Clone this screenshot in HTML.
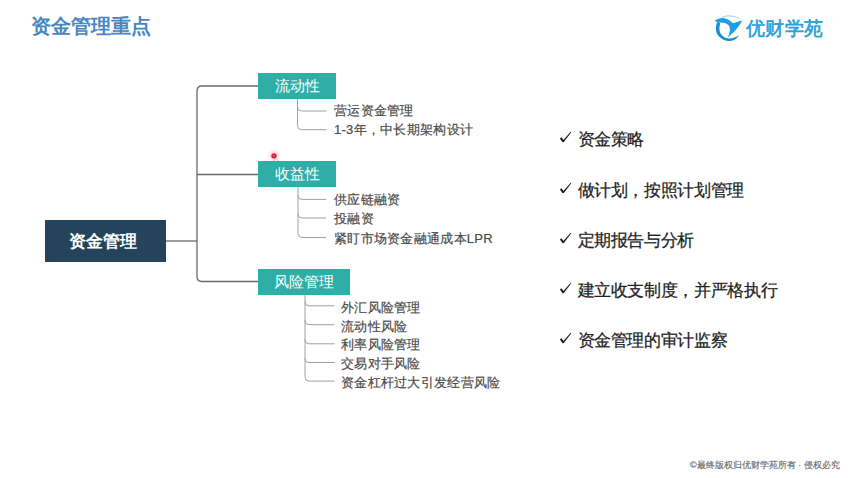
<!DOCTYPE html>
<html><head><meta charset="utf-8">
<style>
html,body{margin:0;padding:0;}
body{width:848px;height:478px;position:relative;overflow:hidden;background:#fff;font-family:"Liberation Sans",sans-serif;}
.a{position:absolute;white-space:nowrap;}
.title{left:31px;top:12.5px;font-size:20px;font-weight:bold;color:#4a86c2;line-height:26px;}
.logo{left:746px;top:17px;font-size:19px;color:#2a9fd8;line-height:24px;letter-spacing:0.3px;-webkit-text-stroke:0.6px #2a9fd8;}
.root{left:45px;top:220px;width:121px;height:42px;background:#24445c;color:#fff;font-size:17px;font-weight:bold;line-height:42px;}
.box{background:#2eaea6;color:#fff;font-size:15px;line-height:26px;text-align:center;height:26px;}
.ch{font-size:13px;font-weight:500;letter-spacing:0.28px;color:#4a4a4a;line-height:16px;-webkit-text-stroke:0.2px #4a4a4a;}
.bul{font-size:17px;letter-spacing:-0.35px;color:#222;line-height:20px;-webkit-text-stroke:0.25px #222;}
.copy{left:690px;top:459px;font-size:9px;color:#6a6a6a;line-height:12px;-webkit-text-stroke:0.15px #6a6a6a;}
svg{position:absolute;left:0;top:0;}
</style></head><body>
<svg width="848" height="478" viewBox="0 0 848 478">
  <g fill="none" stroke="#6a6a6a" stroke-width="1.3">
    <path d="M166 241 H197"/>
    <path d="M258 86 H202 Q197 86 197 91 V276.5 Q197 281.5 202 281.5 H258"/>
    <path d="M197 174.5 H258"/>
  </g>
  <g fill="none" stroke="#a0a0a0" stroke-width="1">
    <path d="M297.5 99 V107 Q297.5 111 301.5 111 H326.5"/>
    <path d="M297.5 107 V125.7 Q297.5 129.7 301.5 129.7 H326.5"/>
    <path d="M298 187 V195.4 Q298 199.4 302 199.4 H326"/>
    <path d="M298 195 V214 Q298 218 302 218 H326"/>
    <path d="M298 214 V233.5 Q298 237.5 302 237.5 H326"/>
    <path d="M305 295 V301.8 Q305 305.8 309 305.8 H334.5"/>
    <path d="M305 301 V320.7 Q305 324.7 309 324.7 H334.5"/>
    <path d="M305 320 V339.8 Q305 343.8 309 343.8 H334.5"/>
    <path d="M305 339 V358.5 Q305 362.5 309 362.5 H334.5"/>
    <path d="M305 358 V377.1 Q305 381.1 309 381.1 H334.5"/>
  </g>
  <!-- logo icon -->
  <g>
    <path fill="#1b8fcc" d="M717.8,21.3 C715.2,26 715.2,32 718.3,35.8 C721.5,39.6 726,41.2 730,41 C734,40.7 737,38.7 739.2,35.3 C736,37.4 733,38.4 730,38.4 C726.3,38.4 723,37 721,34.2 C719,31.4 719,27 720.3,23.6 Z"/>
    <path fill="#1d9ee6" d="M714.3,21 C717,19.3 720,18 723.5,18.1 C727.5,18.5 730,20.8 733,23.3 C736,22.4 739,21.3 742.2,20.5 C739.5,26 734,32.5 727.6,37.6 C730,33 730.8,28.5 728.8,25.5 C726.5,22.8 723.5,22.5 720,22.4 C717.8,22 716,21.5 714.3,21 Z"/>
    <path fill="none" stroke="#86c6ea" stroke-width="0.9" d="M721.5,17.6 C726,15.3 733,15 739,18.6"/>
  </g>
  <!-- checks -->
  <path transform="translate(0,0)" d="M559.9,138.4 L561.4,137.2 L563.4,139.9 L570.7,131.7 L571.3,132.3 L563.8,142.1 L562.6,142.2 Z" fill="#1a1a1a"/>
  <path transform="translate(0,51)" d="M559.9,138.4 L561.4,137.2 L563.4,139.9 L570.7,131.7 L571.3,132.3 L563.8,142.1 L562.6,142.2 Z" fill="#1a1a1a"/>
  <path transform="translate(0,101)" d="M559.9,138.4 L561.4,137.2 L563.4,139.9 L570.7,131.7 L571.3,132.3 L563.8,142.1 L562.6,142.2 Z" fill="#1a1a1a"/>
  <path transform="translate(0,151)" d="M559.9,138.4 L561.4,137.2 L563.4,139.9 L570.7,131.7 L571.3,132.3 L563.8,142.1 L562.6,142.2 Z" fill="#1a1a1a"/>
  <path transform="translate(0,201)" d="M559.9,138.4 L561.4,137.2 L563.4,139.9 L570.7,131.7 L571.3,132.3 L563.8,142.1 L562.6,142.2 Z" fill="#1a1a1a"/>
  <!-- cursor dot -->
  <defs><radialGradient id="glow"><stop offset="0" stop-color="#f06070" stop-opacity="0.6"/><stop offset="0.5" stop-color="#f8a0a8" stop-opacity="0.35"/><stop offset="1" stop-color="#ffd0d0" stop-opacity="0"/></radialGradient></defs>
  <circle cx="274" cy="155.8" r="7.5" fill="url(#glow)"/>
  <circle cx="274" cy="155.8" r="2.6" fill="#c8202a"/>
  <circle cx="273.8" cy="155.5" r="1.2" fill="#e85060"/>
  <path d="M274.5,157.5 L274.5,163.5 L276,162 L277.5,164.5 L278.3,164 L277,161.5 L279,161.3 Z" fill="#ffffff" stroke="#777" stroke-width="0.5" opacity="0.8"/>
</svg>
<div class="a title">资金管理重点</div>
<div class="a logo">优财学苑</div>
<div class="a root"><span style="position:absolute;left:24px;top:1px;">资金管理</span></div>
<div class="a box" style="left:258px;top:73px;width:78px;">流动性</div>
<div class="a box" style="left:258px;top:161px;width:78px;">收益性</div>
<div class="a box" style="left:258px;top:269px;width:92px;">风险管理</div>

<div class="a ch" style="left:334px;top:103px;">营运资金管理</div>
<div class="a ch" style="left:334px;top:122px;">1-3年，中长期架构设计</div>
<div class="a ch" style="left:334px;top:192px;">供应链融资</div>
<div class="a ch" style="left:334px;top:211px;">投融资</div>
<div class="a ch" style="left:334px;top:231px;">紧盯市场资金融通成本LPR</div>

<div class="a ch" style="left:341px;top:300px;">外汇风险管理</div>
<div class="a ch" style="left:341px;top:319px;">流动性风险</div>
<div class="a ch" style="left:341px;top:337px;">利率风险管理</div>
<div class="a ch" style="left:341px;top:356px;">交易对手风险</div>
<div class="a ch" style="left:341px;top:375px;">资金杠杆过大引发经营风险</div>

<div class="a bul" style="left:577.5px;top:130px;">资金策略</div>
<div class="a bul" style="left:577.5px;top:181px;">做计划，按照计划管理</div>
<div class="a bul" style="left:577.5px;top:231px;">定期报告与分析</div>
<div class="a bul" style="left:577.5px;top:281px;">建立收支制度，并严格执行</div>
<div class="a bul" style="left:577.5px;top:331px;">资金管理的审计监察</div>

<div class="a copy">©最终版权归优财学苑所有 · 侵权必究</div>
</body></html>
